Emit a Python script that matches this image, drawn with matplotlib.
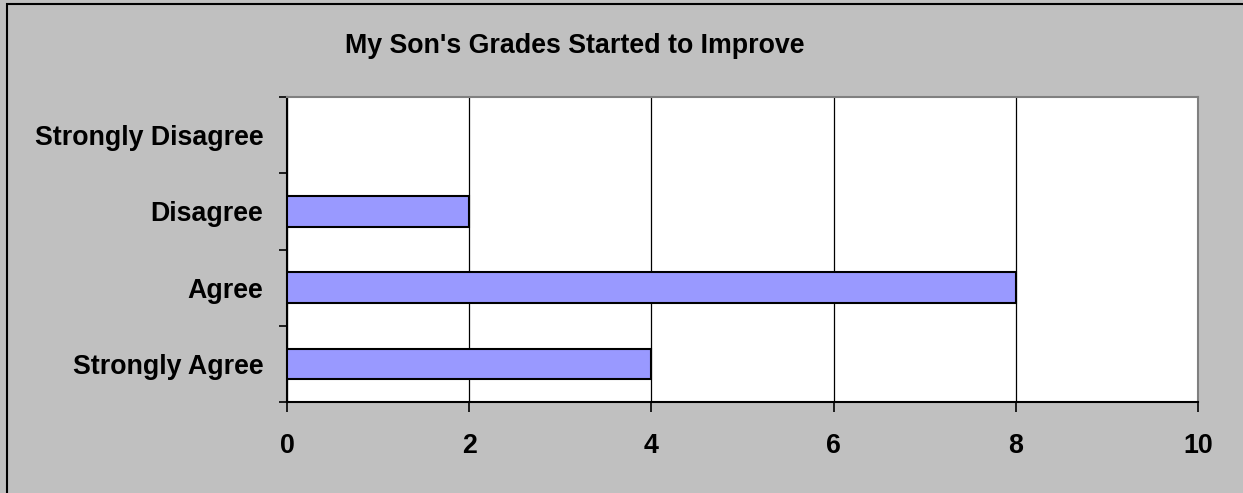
import matplotlib.pyplot as plt
from matplotlib.patches import Rectangle
from matplotlib.ticker import FixedLocator

# data, bottom to top as drawn
categories = ["Strongly Agree", "Agree", "Disagree", "Strongly Disagree"]
counts = [4, 8, 2, 0]
x_ticks = [0, 2, 4, 6, 8, 10]
title = "My Son's Grades Started to Improve"

plt.rcParams["font.family"] = ["Liberation Sans", "DejaVu Sans"]
plt.rcParams["font.weight"] = "bold"

W, H = 1243, 493
fig = plt.figure(figsize=(W / 100, H / 100), dpi=100)
fig.patch.set_facecolor("#C0C0C0")

# outer chart border (only top and left edges visible in the crop)
fig.patches.append(Rectangle((7 / W, -0.2), 1.5, 1.2 - 4 / H,
                             transform=fig.transFigure, fill=False,
                             edgecolor="black", linewidth=1.5, zorder=0))

ax = fig.add_axes([287 / W, 1 - 402 / H, (1198 - 287) / W, (402 - 97) / H])
ax.set_facecolor("white")

pos = list(range(len(categories)))
ax.barh(pos, counts, height=0.4, color="#9999FF", edgecolor="black",
        linewidth=1.5, zorder=3)

ax.set_xlim(0, 10)
ax.set_ylim(-0.5, len(categories) - 0.5)
ax.set_xticks(x_ticks)
ax.set_xticklabels([str(t) for t in x_ticks], fontsize=19.3, fontweight="bold")
ax.set_yticks(pos)
ax.set_yticklabels(categories, fontsize=19.3, fontweight="bold")
ax.tick_params(axis="y", which="major", length=0, pad=17)
ax.yaxis.set_minor_locator(FixedLocator([p - 0.5 for p in pos] + [pos[-1] + 0.5]))
ax.tick_params(axis="y", which="minor", length=6, width=1.2, color="black")
ax.tick_params(axis="x", length=7, width=1.2, pad=15, color="black")

ax.grid(axis="x", color="black", linewidth=0.9, zorder=1)
ax.set_axisbelow(True)

for side in ("left", "bottom"):
    ax.spines[side].set_color("black")
    ax.spines[side].set_linewidth(1.5)
for side in ("top", "right"):
    ax.spines[side].set_color("#808080")
    ax.spines[side].set_linewidth(1.5)

fig.text(575 / W, 1 - 46 / H, title, ha="center", va="center",
         fontsize=19.3, fontweight="bold")

fig.savefig("out.png", dpi=100, facecolor=fig.get_facecolor())
